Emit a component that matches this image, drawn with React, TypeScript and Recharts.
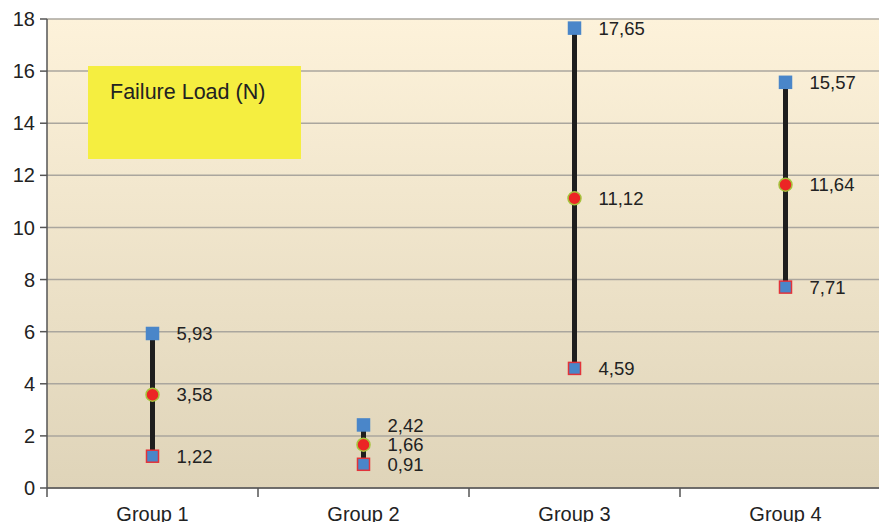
import React from "react";
import {
  Bar,
  CartesianGrid,
  ComposedChart,
  LabelList,
  Line,
  XAxis,
  YAxis,
} from "recharts";

const categories = ["Group 1", "Group 2", "Group 3", "Group 4"];
const maxValues = [5.93, 2.42, 17.65, 15.57];
const meanValues = [3.58, 1.66, 11.12, 11.64];
const minValues = [1.22, 0.91, 4.59, 7.71];
const yTicks = [0, 2, 4, 6, 8, 10, 12, 14, 16, 18];

const FONT = "'Liberation Sans', Arial, Helvetica, sans-serif";

const chartData = categories.map((name, i) => ({
  name,
  max: maxValues[i],
  mean: meanValues[i],
  min: minValues[i],
  range: [minValues[i], maxValues[i]],
}));

const fmt = (v: any) => String(v).replace(".", ",");

// square marker for max (blue) and min (blue with red border)
const square = (stroke: string) => (props: any) => {
  const { cx, cy, index } = props;
  if (cx == null || cy == null) return <g key={index} />;
  return (
    <rect
      key={index}
      x={cx - 6}
      y={cy - 6}
      width={12}
      height={12}
      fill="#4a86c9"
      stroke={stroke}
      strokeWidth={1.5}
    />
  );
};

const meanDot = (props: any) => {
  const { cx, cy, index } = props;
  if (cx == null || cy == null) return <g key={index} />;
  return (
    <circle
      key={index}
      cx={cx}
      cy={cy}
      r={6.5}
      fill="#ec2525"
      stroke="#a6c23c"
      strokeWidth={1.5}
    />
  );
};

// category label in the middle, tick mark at the left edge of each band
const XTick = (props: any) => {
  const { x, y, payload } = props;
  const half = 844 / categories.length / 2;
  return (
    <g>
      <line x1={x - half} x2={x - half} y1={y} y2={y + 9} stroke="#555" strokeWidth={1.5} />
      <text x={x} y={y + 33} textAnchor="middle" fontSize={20} fill="#222" fontFamily={FONT}>
        {payload.value}
      </text>
    </g>
  );
};

const labelStyle = { fontSize: 18.5, fill: "#222", fontFamily: FONT };

export default function App() {
  return (
    <div
      style={{
        position: "fixed",
        left: 0,
        top: 0,
        width: 879,
        height: 522,
        overflow: "hidden",
        background: "#fff",
      }}
    >
      <ComposedChart
        width={900}
        height={522}
        data={chartData}
        margin={{ top: 19, right: 9, bottom: 0, left: 0 }}
      >
        <defs>
          <linearGradient id="bgFill" x1="0" y1="0" x2="0" y2="1">
            <stop offset="0%" stopColor="#fdf2da" />
            <stop offset="100%" stopColor="#dfd4b9" />
          </linearGradient>
        </defs>
        <CartesianGrid
          vertical={false}
          stroke="#aaa69e"
          strokeWidth={1.5}
          fill="url(#bgFill)"
          fillOpacity={1}
        />
        <XAxis
          dataKey="name"
          height={34}
          tickSize={0}
          tickMargin={0}
          tickLine={false}
          tick={<XTick />}
          axisLine={{ stroke: "#555", strokeWidth: 1.5 }}
          interval={0}
        />
        <YAxis
          width={47}
          domain={[0, 18]}
          ticks={yTicks}
          tickSize={7}
          tickMargin={5}
          tickLine={{ stroke: "#555", strokeWidth: 1.5 }}
          axisLine={{ stroke: "#555", strokeWidth: 1.5 }}
          tick={{ fontSize: 20, fill: "#222", fontFamily: FONT }}
          allowDataOverflow
        />
        <Bar dataKey="range" barSize={5} fill="#1e1e1e" isAnimationActive={false} />
        <Line
          dataKey="min"
          stroke="none"
          dot={square("#e2333a")}
          activeDot={false}
          isAnimationActive={false}
        >
          <LabelList dataKey="min" position="right" offset={24} formatter={fmt} style={labelStyle} />
        </Line>
        <Line
          dataKey="mean"
          stroke="none"
          dot={meanDot}
          activeDot={false}
          isAnimationActive={false}
        >
          <LabelList dataKey="mean" position="right" offset={24} formatter={fmt} style={labelStyle} />
        </Line>
        <Line
          dataKey="max"
          stroke="none"
          dot={square("#4a86c9")}
          activeDot={false}
          isAnimationActive={false}
        >
          <LabelList dataKey="max" position="right" offset={24} formatter={fmt} style={labelStyle} />
        </Line>
      </ComposedChart>
      <div
        style={{
          position: "absolute",
          left: 88,
          top: 66,
          width: 213,
          height: 93,
          background: "#f5ee40",
          fontFamily: FONT,
          fontSize: 21.5,
          lineHeight: "25px",
          color: "#222",
          boxSizing: "border-box",
          padding: "14px 0 0 22px",
        }}
      >
        Failure Load (N)
      </div>
    </div>
  );
}
